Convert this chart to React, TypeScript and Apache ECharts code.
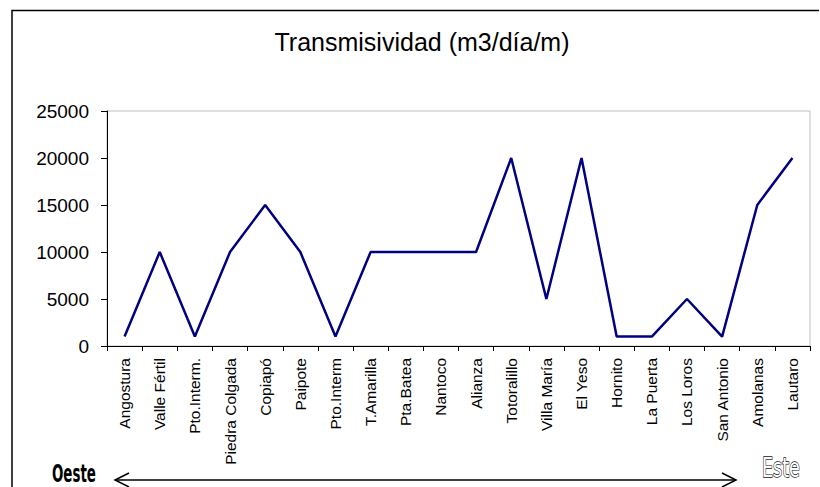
import React, { useEffect, useRef } from "react";
import * as echarts from "echarts";

const categories = [
  "Angostura", "Valle Fértil", "Pto.Interm.", "Piedra Colgada", "Copiapó", "Paipote",
  "Pto.Interm", "T.Amarilla", "Pta.Batea", "Nantoco", "Alianza", "Totoralillo",
  "Villa María", "El Yeso", "Hornito", "La Puerta", "Los Loros", "San Antonio",
  "Amolanas", "Lautaro",
];
const transmisividad = [
  1000, 10000, 1000, 10000, 15000, 10000, 1000, 10000, 10000, 10000, 10000, 20000,
  5000, 20000, 1000, 1000, 5000, 1000, 15000, 20000,
];
const titleText = "Transmisividad (m3/día/m)";
const westLabel = "Oeste";
const eastLabel = "Este";

export default function App() {
  const ref = useRef<HTMLDivElement>(null);
  useEffect(() => {
    const chart = echarts.init(ref.current!, null, { renderer: "svg" });
    const font = "'Liberation Sans', Arial, sans-serif";
    const condensed = "'DejaVu Sans Condensed', 'DejaVu Sans', sans-serif";
    chart.setOption({
      animation: false,
      grid: { left: 107, right: 10, top: 111, bottom: 141, containLabel: false, show: true, borderColor: "#c0c0c0", borderWidth: 1 },
      xAxis: {
        type: "category",
        data: categories,
        boundaryGap: true,
        axisLine: { lineStyle: { color: "#000", width: 1 } },
        axisTick: { show: true, length: 5, alignWithLabel: false, lineStyle: { color: "#000" } },
        axisLabel: { rotate: 90, fontFamily: font, fontSize: 15.5, color: "#000", margin: 12, interval: 0 },
        splitLine: { show: false },
      },
      yAxis: {
        type: "value",
        min: 0,
        max: 25000,
        interval: 5000,
        axisLine: { show: true, lineStyle: { color: "#000", width: 1 } },
        axisTick: { show: true, length: 6, lineStyle: { color: "#000" } },
        axisLabel: { fontFamily: font, fontSize: 19, color: "#000", margin: 18, formatter: (v: number) => String(v) },
        splitLine: { show: false },
      },
      series: [
        {
          type: "line",
          data: transmisividad,
          symbol: "none",
          lineStyle: { color: "#000080", width: 2.5 },
        },
      ],
      graphic: [
        {
          type: "text", x: 422, y: 42,
          style: { text: titleText, fontFamily: font, fontSize: 25, fill: "#000", align: "center", verticalAlign: "middle" },
        },
        { type: "polyline", shape: { points: [[12, 487], [12, 10.5], [819, 10.5]] }, style: { stroke: "#000", lineWidth: 1.5, fill: null } },
        { type: "line", shape: { x1: 115, y1: 480, x2: 736, y2: 480 }, style: { stroke: "#000", lineWidth: 1.5 } },
        { type: "polyline", shape: { points: [[129, 473], [115, 480], [129, 487]] }, style: { stroke: "#000", lineWidth: 1.5, fill: null } },
        { type: "polyline", shape: { points: [[722, 473], [736, 480], [722, 487]] }, style: { stroke: "#000", lineWidth: 1.5, fill: null } },
        {
          type: "text", x: 52, y: 473.5, scaleX: 0.62,
          style: { text: westLabel, fontFamily: condensed, fontWeight: "bold", fontSize: 24, fill: "#000", align: "left", verticalAlign: "middle" },
        },
        {
          type: "text", x: 762, y: 467.5, scaleX: 0.75,
          style: { text: eastLabel, fontFamily: condensed, fontSize: 26, fill: "#fff", stroke: "#111", lineWidth: 1.3, align: "left", verticalAlign: "middle" },
        },
      ],
    });
    return () => chart.dispose();
  }, []);
  return <div ref={ref} style={{ width: 820, height: 487, position: "absolute", left: 0, top: 0 }} />;
}
